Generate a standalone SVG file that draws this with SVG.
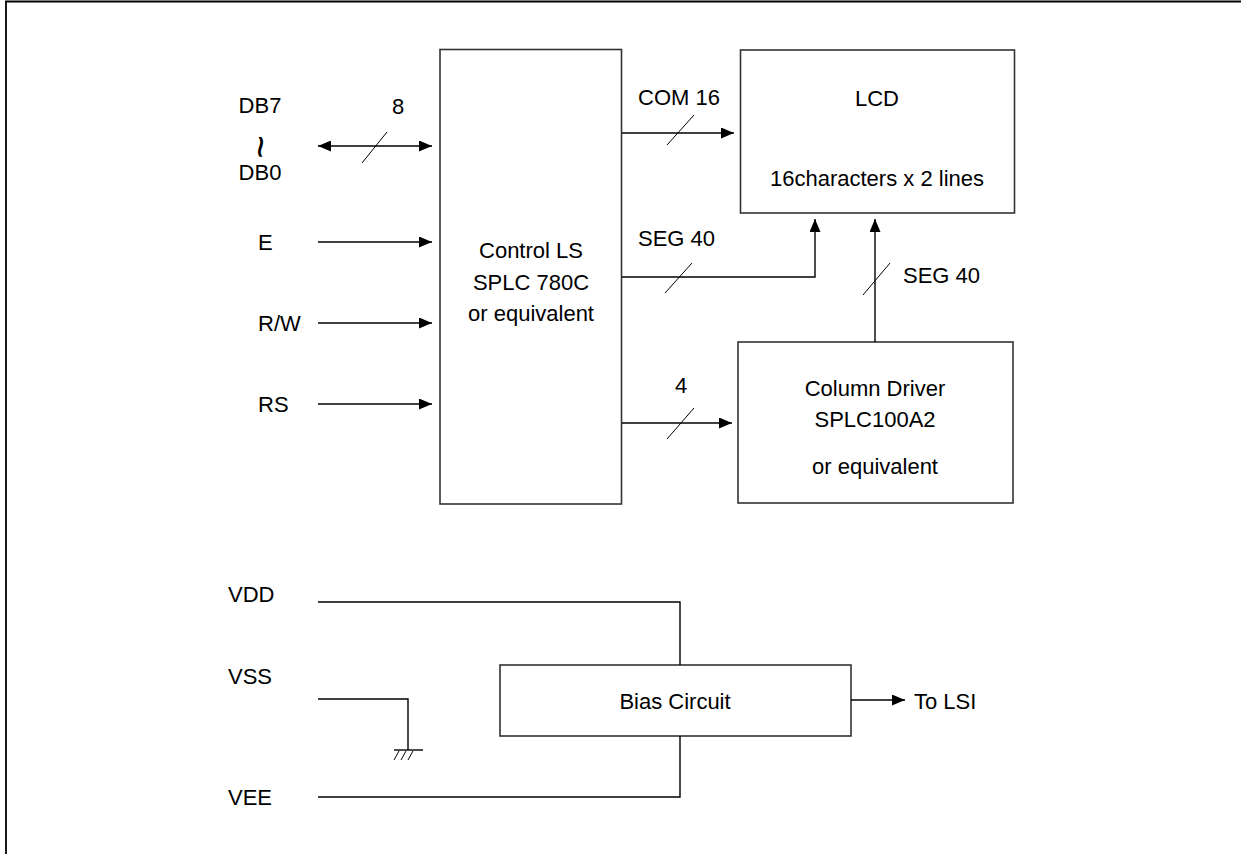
<svg xmlns="http://www.w3.org/2000/svg" width="1241" height="854" viewBox="0 0 1241 854">
<defs>
<marker id="ah" viewBox="0 0 13 11" refX="13" refY="5.5" markerWidth="13" markerHeight="11" markerUnits="userSpaceOnUse" orient="auto-start-reverse">
<path d="M0,0 L13,5.5 L0,11 z" fill="#000"/>
</marker>
</defs>
<style>
text{font-family:"Liberation Sans",Arial,sans-serif;font-size:22px;fill:#000}
.m{text-anchor:middle}
.box{fill:#fff;stroke:#333;stroke-width:1.6}
.ln{fill:none;stroke:#000;stroke-width:1.4}
.sl{fill:none;stroke:#000;stroke-width:1}
.ar{marker-end:url(#ah)}
</style>
<rect width="1241" height="854" fill="#fff"/>
<path d="M6,854 V1.5 H1241" fill="none" stroke="#000" stroke-width="1.8"/>

<g id="control">
<rect class="box" x="440" y="49.5" width="181.5" height="454.5"/>
<text class="m" x="531" y="258">Control LS</text>
<text class="m" x="531" y="290">SPLC 780C</text>
<text class="m" x="531" y="321">or equivalent</text>
</g>
<g id="lcd">
<rect class="box" x="740.5" y="50" width="274" height="163"/>
<text class="m" x="877" y="106">LCD</text>
<text class="m" x="877" y="186">16characters x 2 lines</text>
</g>
<g id="coldriver">
<rect class="box" x="738" y="342" width="275" height="161"/>
<text class="m" x="875" y="396">Column Driver</text>
<text class="m" x="875" y="427">SPLC100A2</text>
<text class="m" x="875" y="474">or equivalent</text>
</g>
<g id="bias">
<rect class="box" x="500" y="665" width="351" height="71"/>
<text class="m" x="675" y="709">Bias Circuit</text>
</g>

<g id="labels">
<text class="m" x="260" y="113">DB7</text>
<text class="m" x="0" y="0" transform="translate(247,147) rotate(90)" style="font-size:40px">~</text>
<text class="m" x="260" y="180">DB0</text>
<text x="258" y="250">E</text>
<text x="258" y="331">R/W</text>
<text x="258" y="412">RS</text>
<text x="228" y="602">VDD</text>
<text x="228" y="684">VSS</text>
<text x="228" y="805">VEE</text>
<text x="914" y="709">To LSI</text>
</g>

<g id="connectors">
<path class="ln ar" d="M318,146 H432" marker-start="url(#ah)"/>
<path class="sl" d="M362,163 L387,132"/>
<text class="m" x="398" y="114">8</text>
<path class="ln ar" d="M318,242 H432"/>
<path class="ln ar" d="M318,323 H432"/>
<path class="ln ar" d="M318,404 H432"/>

<path class="ln ar" d="M622,133 H734"/>
<path class="sl" d="M667,145 L694,115"/>
<text x="638" y="105">COM 16</text>

<path class="ln ar" d="M622,277 H815 V219"/>
<path class="sl" d="M665,293 L692,263"/>
<text x="638" y="246">SEG 40</text>

<path class="ln ar" d="M875,342 V219"/>
<path class="sl" d="M863,295 L890,263"/>
<text x="903" y="283">SEG 40</text>

<path class="ln ar" d="M622,423 H732"/>
<path class="sl" d="M667,439 L694,408"/>
<text class="m" x="681" y="393">4</text>

<path class="ln" d="M318,602 H680 V665"/>
<path class="ln" d="M318,699 H408 V750"/>
<path class="ln" d="M394,750 H423"/>
<path class="sl" d="M394,760 L399,751 M401,760 L406,751 M408,760 L413,751"/>
<path class="ln" d="M318,797 H680 V736"/>
<path class="ln ar" d="M851,700 H905"/>
</g>
</svg>
